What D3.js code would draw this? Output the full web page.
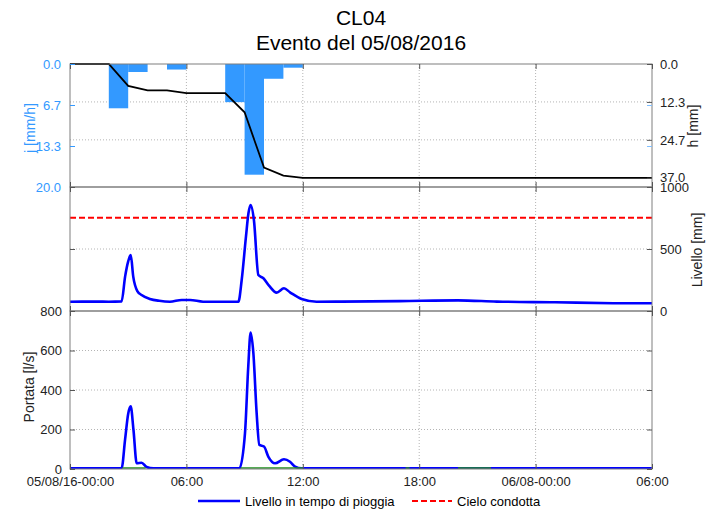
<!DOCTYPE html>
<html lang="it">
<head>
<meta charset="UTF-8">
<title>CL04 - Evento del 05/08/2016</title>
<style>
    body { margin: 0; background: #fff; }
    svg { display: block; font-family: Arial, "Liberation Sans", sans-serif; }
    .grid line { stroke: #b4b4b4; stroke-dasharray: 1,2; }
    .axis text { font-size: 13px; fill: #222; }
    .axis line { stroke: #555; }
    .axis path { display: none; }
    .label { font-size: 14px; fill: #222; }
</style>
</head>
<body>
<div id="chart"></div>
<script src="https://d3js.org/d3.v7.min.js"></script>
<script>
// asse tempi (ore dal 05/08/16 00:00)
const timeTicks = [0, 6, 12, 18, 24, 30];
const timeLabels = ["05/08/16-00:00", "06:00", "12:00", "18:00", "06/08-00:00", "06:00"];

// pioggia: intensità oraria j [mm/h], inizio ora
const rainHours = [2, 3, 4, 5, 6, 7, 8, 9, 10, 11];
const rainJ = [7.2, 1.3, 0, 0.9, 0, 0, 6.2, 18.0, 2.4, 0.6];

// pioggia cumulata h [mm]
const cumHours = [0, 2, 3, 4, 5, 6, 7, 8, 9, 10, 11, 12, 30];
const cumH = [0, 0, 7.1, 8.6, 8.6, 9.5, 9.5, 9.5, 15.7, 33.7, 36.3, 37.0, 37.0];

const jTicks = [0, 20 / 3, 40 / 3, 20];
const hTicks = [0, 37 / 3, 74 / 3, 37];

// livello [mm]
const levelHours = [0, 1, 2, 2.66, 2.84, 3.0, 3.13, 3.26, 3.47, 3.69, 4.12, 4.6, 5.15, 5.76, 6.19, 6.86,
    8.0, 8.68, 8.85, 9.07, 9.2, 9.31, 9.48, 9.71, 9.97, 10.27, 10.65, 11.03, 11.34, 11.94, 12.71,
    14, 17, 20, 22, 25, 28, 30];
const levelMm = [75, 76, 75, 78, 277, 400, 452, 277, 161, 129, 97, 82, 75, 89, 89, 75,
    74, 75, 250, 600, 790, 855, 734, 290, 264, 202, 148, 183, 151, 97, 75,
    76, 80, 86, 76, 70, 63, 62];
const cieloCondotta = 752;
const levelTicks = [0, 500, 1000];

// portata [l/s]
const flowHours = [0, 2, 2.66, 2.84, 3.0, 3.13, 3.27, 3.44, 3.69, 3.95, 4.3, 6, 8.0, 8.73, 9.02, 9.19,
    9.31, 9.45, 9.62, 9.76, 10.0, 10.22, 10.57, 11.03, 11.34, 11.6, 11.94, 15, 20, 25, 30];
const flowLs = [3, 3, 4, 150, 280, 317, 200, 29, 32, 10, 3, 4, 3, 3, 182, 521,
    691, 589, 284, 122, 114, 63, 29, 49, 37, 12, 3, 3, 3, 3, 3];
const flowTicks = [0, 200, 400, 600, 800];

// portata modello (verde), tratti visibili
const greenHours = [2.7, 3.9, 3.95, 8.8, 12.0, 12.05, 17.3, 17.5, 17.55, 20.0, 21.7];
const greenLs = [5, 5, NaN, 5, 5, NaN, 5, 5, NaN, 5, 5];

const W = 712, H = 510;
const left = 70, right = 652;
const panels = { top: [64, 187], mid: [187, 311], bot: [311, 469] };

const svg = d3.select("#chart").append("svg").attr("width", W).attr("height", H);

const x = d3.scaleLinear().domain([0, 30]).range([left, right]);
const yJ = d3.scaleLinear().domain([0, 20]).range(panels.top);
const yH = d3.scaleLinear().domain([0, 40]).range(panels.top);
const yLev = d3.scaleLinear().domain([0, 1000]).range([panels.mid[1], panels.mid[0]]);
const yFlow = d3.scaleLinear().domain([0, 800]).range([panels.bot[1], panels.bot[0]]);

// titolo
svg.append("text").attr("x", 361).attr("y", 25).attr("text-anchor", "middle")
    .style("font-size", "21px").text("CL04");
svg.append("text").attr("x", 361).attr("y", 50).attr("text-anchor", "middle")
    .style("font-size", "21px").text("Evento del 05/08/2016");

// clip per ogni pannello
Object.entries(panels).forEach(([k, p]) => {
    svg.append("clipPath").attr("id", "clip-" + k).append("rect")
        .attr("x", left).attr("y", p[0]).attr("width", right - left).attr("height", p[1] - p[0]);
});

// griglie
function gridLines(p, yScale, yTicks) {
    const g = svg.append("g").attr("class", "grid");
    g.selectAll(".v").data(timeTicks.slice(1, -1)).enter().append("line")
        .attr("x1", d => x(d)).attr("x2", d => x(d)).attr("y1", p[0]).attr("y2", p[1]);
    g.selectAll(".h").data(yTicks).enter().append("line")
        .attr("x1", left).attr("x2", right).attr("y1", d => yScale(d)).attr("y2", d => yScale(d));
}
gridLines(panels.top, yH, hTicks.slice(1, 3));
gridLines(panels.mid, yLev, [500]);
gridLines(panels.bot, yFlow, [200, 400, 600]);

// barre pioggia
const rain = rainHours.map((h, i) => ({ h, j: rainJ[i] })).filter(d => d.j > 0);
svg.append("g").attr("clip-path", "url(#clip-top)")
    .selectAll("rect").data(rain).enter().append("rect")
    .attr("x", d => x(d.h)).attr("width", d => x(d.h + 1) - x(d.h))
    .attr("y", yJ(0)).attr("height", d => yJ(d.j) - yJ(0))
    .attr("fill", "#3399ff");

// cumulata
const cum = cumHours.map((h, i) => ({ t: h, v: cumH[i] }));
svg.append("path").datum(cum)
    .attr("fill", "none").attr("stroke", "#000").attr("stroke-width", 1.8)
    .attr("d", d3.line().x(d => x(d.t)).y(d => yH(d.v)));

// livello
const level = levelHours.map((h, i) => ({ t: h, v: levelMm[i] }));
svg.append("line").attr("clip-path", "url(#clip-mid)")
    .attr("x1", left).attr("x2", right).attr("y1", yLev(cieloCondotta)).attr("y2", yLev(cieloCondotta))
    .attr("stroke", "#ff0000").attr("stroke-width", 2.2).attr("stroke-dasharray", "6,3");
svg.append("path").datum(level).attr("clip-path", "url(#clip-mid)")
    .attr("fill", "none").attr("stroke", "#0000ff").attr("stroke-width", 2.6)
    .attr("d", d3.line().curve(d3.curveMonotoneX).x(d => x(d.t)).y(d => yLev(d.v)));

// portata
const flow = flowHours.map((h, i) => ({ t: h, v: flowLs[i] }));
svg.append("path").datum(flow).attr("clip-path", "url(#clip-bot)")
    .attr("fill", "none").attr("stroke", "#0000ff").attr("stroke-width", 2.6)
    .attr("d", d3.line().curve(d3.curveMonotoneX).x(d => x(d.t)).y(d => yFlow(d.v)));
const green = greenHours.map((h, i) => ({ t: h, v: greenLs[i] }));
svg.append("path").datum(green).attr("clip-path", "url(#clip-bot)")
    .attr("fill", "none").attr("stroke", "#1f8f1f").attr("stroke-width", 1.6)
    .attr("d", d3.line().defined(d => !isNaN(d.v)).x(d => x(d.t)).y(d => yFlow(d.v)));

// bordi pannelli
Object.values(panels).forEach(p => {
    svg.append("rect").attr("x", left).attr("y", p[0]).attr("width", right - left).attr("height", p[1] - p[0])
        .attr("fill", "none").attr("stroke", "#7f7f7f").attr("stroke-width", 1);
    // tacche tempo in alto e in basso
    svg.append("g").attr("class", "axis").attr("transform", `translate(0,${p[1]})`)
        .call(d3.axisBottom(x).tickValues(timeTicks).tickSizeInner(-5).tickSizeOuter(0).tickFormat(""));
    svg.append("g").attr("class", "axis").attr("transform", `translate(0,${p[0]})`)
        .call(d3.axisTop(x).tickValues(timeTicks).tickSizeInner(-5).tickSizeOuter(0).tickFormat(""));
});

// etichette asse tempi
svg.append("g").attr("class", "axis").attr("transform", `translate(0,${panels.bot[1]})`)
    .call(d3.axisBottom(x).tickValues(timeTicks).tickSize(0).tickPadding(8)
        .tickFormat((d, i) => timeLabels[i]))
    .selectAll("text").style("font-size", "13px");

// assi pannello superiore
const fmt1 = d3.format(".1f");
const jAxis = svg.append("g").attr("class", "axis").attr("transform", `translate(${left},0)`)
    .call(d3.axisLeft(yJ).tickValues(jTicks).tickFormat(fmt1).tickSizeInner(-5).tickSizeOuter(0).tickPadding(9));
jAxis.selectAll("text").style("fill", "#3399ff");
jAxis.selectAll("line").style("stroke", "#3399ff");
svg.append("g").attr("class", "axis").attr("transform", `translate(${right},0)`)
    .call(d3.axisRight(yJ).tickValues(jTicks).tickFormat("").tickSizeInner(-5).tickSizeOuter(0))
    .selectAll("line").style("stroke", "#80bfff");
svg.append("g").attr("class", "axis").attr("transform", `translate(${right},0)`)
    .call(d3.axisRight(yH).tickValues(hTicks).tickFormat(fmt1).tickSizeInner(-5).tickSizeOuter(0).tickPadding(8));

// asse livello
svg.append("g").attr("class", "axis").attr("transform", `translate(${right},0)`)
    .call(d3.axisRight(yLev).tickValues(levelTicks).tickFormat(d3.format("d"))
        .tickSizeInner(-5).tickSizeOuter(0).tickPadding(8));
svg.append("g").attr("class", "axis").attr("transform", `translate(${left},0)`)
    .call(d3.axisLeft(yLev).tickValues(levelTicks).tickFormat("").tickSizeInner(-5).tickSizeOuter(0));

// asse portata
svg.append("g").attr("class", "axis").attr("transform", `translate(${left},0)`)
    .call(d3.axisLeft(yFlow).tickValues(flowTicks).tickSizeInner(-5).tickSizeOuter(0).tickPadding(8));
svg.append("g").attr("class", "axis").attr("transform", `translate(${right},0)`)
    .call(d3.axisRight(yFlow).tickValues(flowTicks).tickFormat("").tickSizeInner(-5).tickSizeOuter(0));

// titoli assi
function yLabel(txt, cx, cy, color) {
    svg.append("text").attr("class", "label")
        .attr("transform", `translate(${cx},${cy}) rotate(-90)`)
        .attr("text-anchor", "middle").attr("dominant-baseline", "middle")
        .style("fill", color || "#222").text(txt);
}
yLabel("j [mm/h]", 31, 128, "#3399ff");
yLabel("h [mm]", 694, 126);
yLabel("Livello [mm]", 698, 250);
yLabel("Portata [l/s]", 30, 387);

// legenda
const legend = svg.append("g");
legend.append("line").attr("x1", 198).attr("x2", 240).attr("y1", 501).attr("y2", 501)
    .attr("stroke", "#0000ff").attr("stroke-width", 2.6);
legend.append("text").attr("x", 245).attr("y", 506).style("font-size", "13px").text("Livello in tempo di pioggia");
legend.append("line").attr("x1", 412).attr("x2", 452).attr("y1", 501).attr("y2", 501)
    .attr("stroke", "#ff0000").attr("stroke-width", 2.2).attr("stroke-dasharray", "6,3");
legend.append("text").attr("x", 457).attr("y", 506).style("font-size", "13px").text("Cielo condotta");
</script>
</body>
</html>
